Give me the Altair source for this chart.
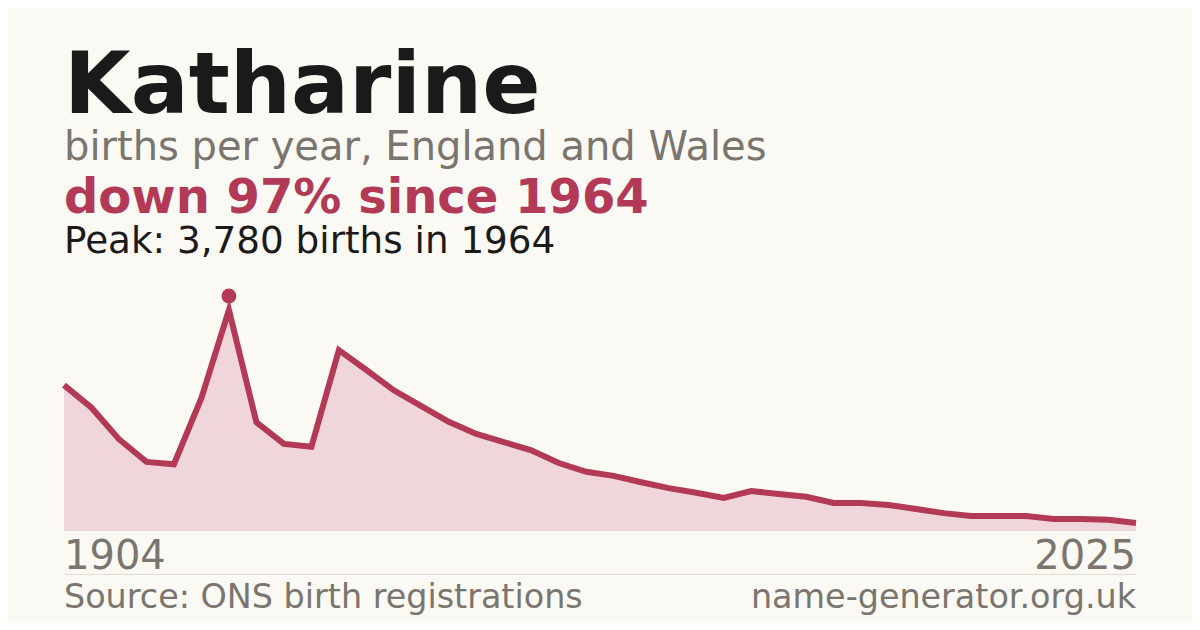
import altair as alt
import pandas as pd

# Data (evenly spaced registration points, 1904 -> 2025)
idx = list(range(40))
births = [2490, 2100, 1560, 1170, 1130, 2270, 3780, 1850, 1480, 1430,
          3090, 2750, 2400, 2130, 1860, 1650, 1510, 1370, 1150, 1000,
          930, 820, 720, 640, 550, 670, 620, 570, 465, 465,
          430, 360, 290, 240, 240, 240, 190, 190, 175, 120]
first_year = "1904"
last_year = "2025"
peak_idx = 6

title = "Katharine"
subtitle = "births per year, England and Wales"
headline = "down 97% since 1964"
peak_text = "Peak: 3,780 births in 1964"
source = "Source: ONS birth registrations"
site = "name-generator.org.uk"

FONT = "DejaVu Sans"
CRIMSON = "#b23a57"
GREY = "#7a756e"
DARK = "#1a1a1a"
BG = "#faf9f4"

df = pd.DataFrame({"i": idx, "v": births})
peak_df = df.iloc[[peak_idx]]

xs = alt.Scale(domain=[0, 39], range=[56, 1128])
ys = alt.Scale(domain=[0, 3780], range=[522, 302])

area = alt.Chart(df).mark_area(color="#f0d6db", opacity=1).encode(
    x=alt.X("i:Q", scale=xs, axis=None),
    y=alt.Y("v:Q", scale=ys, axis=None),
)
line = alt.Chart(df).mark_line(color=CRIMSON, strokeWidth=6).encode(
    x=alt.X("i:Q", scale=xs, axis=None),
    y=alt.Y("v:Q", scale=ys, axis=None),
)
dot = alt.Chart(peak_df).mark_circle(color=CRIMSON, size=220, opacity=1, yOffset=-14).encode(
    x=alt.X("i:Q", scale=xs, axis=None),
    y=alt.Y("v:Q", scale=ys, axis=None),
)

def txt(s, x, y, size, color, weight="normal", align="left"):
    return alt.Chart(pd.DataFrame({"t": [s]})).mark_text(
        font=FONT, fontSize=size, fontWeight=weight, color=color,
        align=align, baseline="alphabetic"
    ).encode(x=alt.value(x), y=alt.value(y), text="t:N")

def rule(y, color):
    return alt.Chart(pd.DataFrame({"a": [0]})).mark_rule(color=color, strokeWidth=1).encode(
        x=alt.value(56), x2=alt.value(1128), y=alt.value(y)
    )

layers = [
    area, line, dot,
    rule(522.5, "#e2ded6"),
    rule(566.5, "#e2ded6"),
    txt(title, 56, 105, 86, DARK, "bold"),
    txt(subtitle, 56, 152, 40, GREY),
    txt(headline, 56, 205, 48, CRIMSON, "bold"),
    txt(peak_text, 56, 245, 37.3, DARK),
    txt(first_year, 56, 561, 40, GREY),
    txt(last_year, 1128, 561, 40, GREY, align="right"),
    txt(source, 56, 600, 33.4, GREY),
    txt(site, 1128, 600, 33.4, GREY, align="right"),
]

chart = alt.layer(*layers).properties(
    width=1184, height=614,
    autosize=alt.AutoSizeParams(type="none"),
    padding=0,
    background=BG,
).configure_view(stroke=None)

chart.save("out.html", embed_options={"renderer": "svg", "actions": False})
